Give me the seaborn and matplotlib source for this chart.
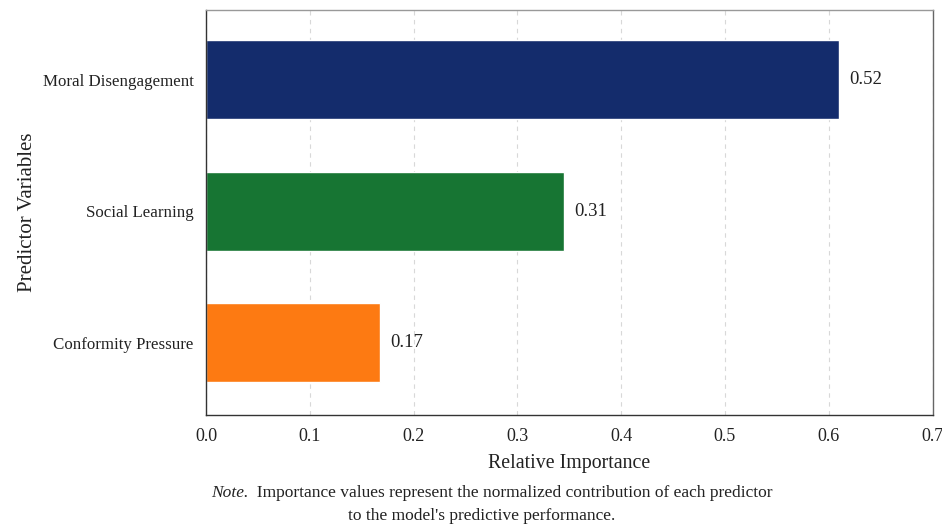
import numpy as np
import pandas as pd
import matplotlib
matplotlib.use('Agg')
from matplotlib import pyplot as plt
import seaborn as sns

predictors = ['Moral Disengagement', 'Social Learning', 'Conformity Pressure']
bar_lengths = [0.61, 0.345, 0.168]
value_labels = ['0.52', '0.31', '0.17']
bar_colors = ['#142c6c', '#177533', '#fd7a12']
x_ticks = [0.0, 0.1, 0.2, 0.3, 0.4, 0.5, 0.6, 0.7]
note_lead = 'Note.'
note_line1 = '  Importance values represent the normalized contribution of each predictor'
note_line2 = "to the model's predictive performance."

df = pd.DataFrame({'Predictor': predictors, 'Importance': bar_lengths})

sns.set_style('white')
plt.rcParams['font.family'] = ['Liberation Serif', 'DejaVu Serif']

fig = plt.figure(figsize=(9.42, 5.26), dpi=100)
ax = fig.add_axes([0.2187, 0.211, 0.7713, 0.770])

sns.barplot(data=df, x='Importance', y='Predictor', hue='Predictor',
            palette=bar_colors, width=0.6, legend=False, ax=ax, saturation=1)

for i, (v, lab) in enumerate(zip(bar_lengths, value_labels)):
    ax.text(v + 0.0095, i, lab, va='center', ha='left', fontsize=13.5, color='#222222')

ax.set_xlim(0, 0.7)
ax.set_ylim(2.55, -0.53)
ax.set_xticks(x_ticks)
ax.set_xticklabels([f'{t:.1f}' for t in x_ticks])
ax.tick_params(axis='x', labelsize=13, colors='#222222', length=3, pad=6)
ax.tick_params(axis='y', labelsize=12.2, colors='#222222', length=0, pad=9)
ax.xaxis.grid(True, linestyle=(0, (4, 4)), color='#d8d8d8', linewidth=0.8)
ax.set_axisbelow(True)
for s in ax.spines.values():
    s.set_color('#333333')
    s.set_linewidth(1.0)
ax.spines['top'].set_color('#999999')
ax.spines['right'].set_color('#666666')

ax.set_xlabel('Relative Importance', fontsize=14.3, color='#222222', labelpad=7)
ax.set_ylabel('Predictor Variables', fontsize=15, color='#222222', labelpad=4)

# note below the chart: italic lead + plain text, centred together
t_lead = fig.text(0, 1 - 493 / 526, note_lead, style='italic', fontsize=12.5,
                  ha='left', va='center', color='#222222')
t_main = fig.text(0, 1 - 493 / 526, note_line1, fontsize=12.5,
                  ha='left', va='center', color='#222222')
fig.canvas.draw()
r = fig.canvas.get_renderer()
w_lead = t_lead.get_window_extent(r).width
w_main = t_main.get_window_extent(r).width
x0 = 492 - (w_lead + w_main) / 2
t_lead.set_x(x0 / 942)
t_main.set_x((x0 + w_lead) / 942)
fig.text(482 / 942, 1 - 516 / 526, note_line2, fontsize=12.5, ha='center', va='center', color='#222222')

fig.savefig('out.png', dpi=100)
